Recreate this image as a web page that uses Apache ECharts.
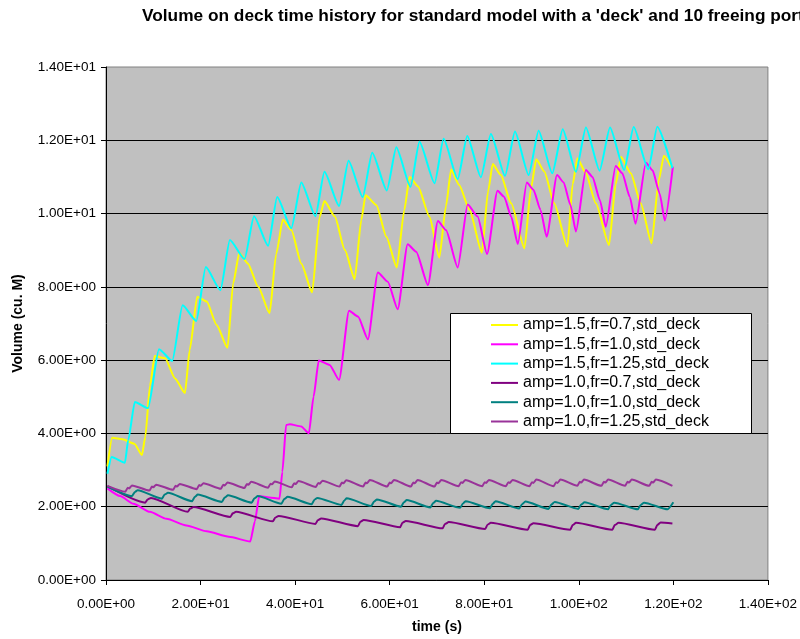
<!DOCTYPE html>
<html>
<head>
<meta charset="utf-8">
<title>Volume on deck time history</title>
<script src="https://cdn.jsdelivr.net/npm/echarts@6/dist/echarts.min.js"></script>
<style>
  html, body { margin: 0; padding: 0; background: #ffffff; }
  #chart { width: 800px; height: 639px; }
</style>
</head>
<body>
<div id="chart"></div>
<script>
// Axis ranges (time in seconds, volume in cubic metres)
const timeAxis = { min: 0, max: 140, step: 20 };
const volumeAxis = { min: 0, max: 14, step: 2 };

const seriesNames = [
  'amp=1.5,fr=0.7,std_deck',
  'amp=1.5,fr=1.0,std_deck',
  'amp=1.5,fr=1.25,std_deck',
  'amp=1.0,fr=0.7,std_deck',
  'amp=1.0,fr=1.0,std_deck',
  'amp=1.0,fr=1.25,std_deck'
];
const seriesColors = ['#FFFF00', '#FF00FF', '#00FFFF', '#800080', '#008080', '#993399'];

// [time (s), volume] samples for each run
const amp15fr07 = [
  [0.3,3.10],[1.3,3.88],[3.5,3.84],[6.0,3.72],[7.6,3.41],[8.3,3.90],[9.3,5.30],[10.3,6.11],
  [12.5,6.05],[14.6,5.50],[16.7,5.10],[17.7,6.28],[19.3,7.73],[21.3,7.60],[23.4,6.96],[25.7,6.34],
  [26.9,8.10],[28.2,8.93],[30.0,8.64],[32.2,8.00],[34.6,7.28],[36.0,8.90],[37.4,9.83],[39.2,9.55],
  [41.3,8.64],[43.6,7.85],[45.2,9.92],[46.2,10.34],[48.4,9.92],[50.5,9.01],[52.6,8.21],[54.0,9.83],
  [54.9,10.50],[57.2,10.23],[59.3,9.37],[61.5,8.53],[63.1,10.10],[64.2,11.00],[66.0,10.74],[68.4,9.92],
  [70.5,8.80],[71.9,10.20],[73.0,11.20],[74.7,10.78],[76.9,10.10],[79.5,8.93],[80.8,10.60],[81.8,11.35],
  [83.5,11.05],[85.7,10.28],[88.5,9.05],[89.9,10.70],[91.0,11.48],[92.7,11.15],[94.8,10.28],[97.6,9.10],
  [98.7,10.80],[99.7,11.51],[101.5,11.10],[103.6,10.28],[106.4,9.14],[107.8,10.80],[108.9,11.55],[111.0,11.10],
  [113.1,10.28],[115.4,9.19],[116.9,10.90],[118.0,11.58],[119.5,11.28]
];

const amp15fr10 = [
  [0.3,2.50],[3.0,2.29],[5.8,2.08],[9.3,1.86],[12.8,1.67],[17.0,1.49],[21.3,1.33],[26.0,1.18],
  [30.5,1.05],[31.5,1.60],[32.4,2.29],[34.5,2.25],[36.7,2.22],[37.3,2.95],[38.1,4.23],[38.9,4.25],
  [41.3,4.19],[42.9,4.00],[43.9,5.00],[45.0,5.99],[47.3,5.87],[49.3,5.46],[51.4,7.35],[53.3,7.19],
  [55.4,6.57],[57.5,8.39],[59.6,8.14],[61.7,7.39],[63.8,9.16],[65.6,8.96],[68.1,8.05],[70.2,9.80],
  [71.9,9.55],[74.4,8.53],[76.5,10.25],[78.6,9.92],[80.6,8.90],[82.8,10.62],[84.2,10.46],[85.7,9.92],
  [87.1,9.17],[89.0,10.85],[90.4,10.65],[91.9,10.10],[93.2,9.37],[95.4,11.05],[96.8,10.85],[98.2,10.25],
  [99.4,9.51],[101.5,11.19],[102.9,11.00],[104.5,10.35],[105.7,9.64],[107.8,11.30],[109.2,11.10],[110.8,10.45],
  [112.0,9.72],[114.2,11.39],[115.6,11.18],[117.1,10.55],[118.2,9.81],[119.9,11.28]
];

const amp15fr125 = [
  [0.3,2.90],[1.2,3.36],[4.0,3.20],[4.7,3.82],[6.1,4.86],[8.9,4.69],[11.2,6.30],[14.0,5.98],
  [16.2,7.50],[19.1,7.07],[21.1,8.54],[24.2,7.91],[26.2,9.28],[29.3,8.76],[31.3,9.93],[34.3,9.12],
  [36.2,10.45],[39.2,9.60],[41.3,10.85],[44.3,9.93],[46.2,11.14],[49.3,10.21],[51.3,11.44],[54.3,10.45],
  [56.3,11.66],[59.4,10.63],[61.4,11.81],[64.4,10.73],[66.3,11.96],[69.5,10.83],[71.4,12.04],[74.4,10.94],
  [76.4,12.12],[79.3,10.99],[81.4,12.17],[84.4,11.03],[86.5,12.24],[89.4,11.05],[91.5,12.26],[94.4,11.10],
  [96.6,12.30],[99.4,11.14],[101.5,12.35],[104.4,11.17],[106.6,12.35],[109.6,11.19],[111.6,12.36],[114.7,11.21],
  [116.6,12.37],[119.8,11.24]
];

const amp10fr07 = [
  [0.3,2.56],[8.3,2.11],[8.8,2.20],[9.5,2.24],[17.3,1.86],[17.8,1.95],[18.5,1.99],[26.3,1.72],
  [26.8,1.82],[27.5,1.86],[35.3,1.60],[35.8,1.70],[36.5,1.75],[44.3,1.53],[44.8,1.63],[45.5,1.68],
  [53.3,1.47],[53.8,1.59],[54.5,1.64],[62.2,1.44],[62.7,1.56],[63.4,1.61],[71.2,1.41],[71.7,1.53],
  [72.5,1.58],[80.2,1.39],[80.7,1.51],[81.4,1.56],[89.2,1.37],[89.7,1.50],[90.4,1.55],[98.2,1.37],
  [98.7,1.50],[99.4,1.56],[107.1,1.37],[107.6,1.50],[108.4,1.56],[116.1,1.37],[116.6,1.50],[117.3,1.57],
  [119.8,1.54]
];

const amp10fr10 = [
  [0.3,2.55],[5.5,2.29],[6.1,2.40],[6.7,2.45],[11.8,2.22],[12.4,2.33],[13.1,2.38],[18.2,2.15],
  [18.8,2.27],[19.4,2.33],[24.5,2.13],[25.1,2.25],[25.8,2.31],[30.8,2.11],[31.4,2.23],[32.1,2.29],
  [37.1,2.08],[37.7,2.21],[38.4,2.27],[43.5,2.07],[44.1,2.19],[44.7,2.24],[49.8,2.05],[50.4,2.17],
  [50.9,2.23],[56.1,2.02],[56.7,2.14],[57.3,2.20],[62.4,2.00],[63.0,2.12],[63.6,2.18],[68.6,1.98],
  [69.2,2.10],[69.8,2.16],[74.9,1.97],[75.5,2.09],[76.1,2.15],[81.2,1.96],[81.8,2.08],[82.4,2.15],
  [87.4,1.95],[88.0,2.07],[88.7,2.14],[93.6,1.94],[94.2,2.06],[94.9,2.13],[99.9,1.94],[100.5,2.06],
  [101.2,2.12],[106.2,1.93],[106.8,2.05],[107.5,2.11],[112.5,1.93],[113.1,2.05],[113.8,2.11],[118.8,1.93],
  [120.0,2.12]
];

const amp10fr125 = [
  [0.3,2.57],
  [4.1,2.41],[4.6,2.52],[4.9,2.50],[5.5,2.58],
  [9.2,2.44],[9.7,2.55],[10.0,2.53],[10.6,2.60],
  [14.2,2.46],[14.7,2.57],[15.0,2.55],[15.6,2.62],
  [19.2,2.48],[19.7,2.59],[20.0,2.57],[20.6,2.64],
  [24.3,2.49],[24.8,2.60],[25.1,2.58],[25.7,2.66],
  [29.3,2.51],[29.8,2.62],[30.1,2.60],[30.7,2.68],
  [34.3,2.52],[34.8,2.63],[35.1,2.61],[35.7,2.69],
  [39.3,2.53],[39.8,2.64],[40.1,2.62],[40.7,2.70],
  [44.4,2.54],[44.9,2.65],[45.2,2.63],[45.8,2.71],
  [49.4,2.55],[49.9,2.66],[50.2,2.64],[50.8,2.72],
  [54.4,2.55],[54.9,2.66],[55.2,2.64],[55.8,2.73],
  [59.5,2.55],[60.0,2.66],[60.3,2.64],[60.9,2.73],
  [64.5,2.55],[65.0,2.66],[65.3,2.64],[65.9,2.73],
  [69.5,2.55],[70.0,2.66],[70.3,2.64],[70.9,2.73],
  [74.6,2.56],[75.1,2.67],[75.4,2.65],[76.0,2.73],
  [79.6,2.56],[80.1,2.67],[80.4,2.65],[81.0,2.73],
  [84.6,2.56],[85.1,2.67],[85.4,2.65],[86.0,2.73],
  [89.6,2.56],[90.1,2.67],[90.4,2.65],[91.0,2.74],
  [94.7,2.56],[95.2,2.67],[95.5,2.65],[96.1,2.74],
  [99.7,2.57],[100.2,2.68],[100.5,2.66],[101.1,2.74],
  [104.8,2.57],[105.3,2.68],[105.6,2.66],[106.2,2.74],
  [109.8,2.57],[110.3,2.68],[110.6,2.66],[111.2,2.74],
  [114.9,2.57],[115.4,2.68],[115.7,2.66],[116.3,2.74],
  [119.8,2.57]
];

const seriesData = [amp15fr07, amp15fr10, amp15fr125, amp10fr07, amp10fr10, amp10fr125];

// Scientific notation like 1.40E+01
function sci(v) {
  if (v === 0) return '0.00E+00';
  const e = Math.floor(Math.log10(Math.abs(v)) + 1e-9);
  const m = v / Math.pow(10, e);
  return m.toFixed(2) + 'E' + (e < 0 ? '-' : '+') + String(Math.abs(e)).padStart(2, '0');
}

const FONT = '"Liberation Sans", Arial, sans-serif';

const chart = echarts.init(document.getElementById('chart'), null, { renderer: 'canvas' });

chart.setOption({
  animation: false,
  backgroundColor: '#ffffff',
  title: {
    text: "Volume on deck time history for standard model with a 'deck' and 10 freeing ports",
    left: 142,
    top: 8,
    padding: 0,
    textStyle: { fontFamily: FONT, fontSize: 17.3, fontWeight: 'bold', color: '#000' }
  },
  grid: {
    left: 106, right: 31, top: 67, bottom: 59,
    show: true,
    backgroundColor: '#C0C0C0',
    borderColor: '#808080',
    borderWidth: 1,
    containLabel: false
  },
  xAxis: {
    type: 'value',
    min: timeAxis.min, max: timeAxis.max, interval: timeAxis.step,
    name: 'time (s)',
    nameLocation: 'middle',
    nameGap: 40,
    nameTextStyle: { fontFamily: FONT, fontSize: 14, fontWeight: 'bold', color: '#000' },
    axisLine: { show: true, onZero: false, lineStyle: { color: '#000', width: 1 } },
    axisTick: { show: true, inside: false, length: 5, lineStyle: { color: '#000' } },
    axisLabel: { formatter: sci, margin: 17, fontFamily: FONT, fontSize: 13.5, color: '#000' },
    splitLine: { show: false }
  },
  yAxis: {
    type: 'value',
    min: volumeAxis.min, max: volumeAxis.max, interval: volumeAxis.step,
    name: 'Volume (cu. M)',
    nameLocation: 'middle',
    nameGap: 81,
    nameTextStyle: { fontFamily: FONT, fontSize: 14, fontWeight: 'bold', color: '#000' },
    axisLine: { show: true, onZero: false, lineStyle: { color: '#000', width: 1 } },
    axisTick: { show: true, inside: false, length: 5, lineStyle: { color: '#000' } },
    axisLabel: { formatter: sci, margin: 10, fontFamily: FONT, fontSize: 13.5, color: '#000' },
    splitLine: { show: true, showMinLine: false, showMaxLine: false, lineStyle: { color: '#000', width: 1 } }
  },
  legend: {
    orient: 'vertical',
    left: 491,
    top: 317,
    padding: 0,
    icon: 'rect',
    itemWidth: 27,
    itemHeight: 2,
    itemGap: 3.3,
    selectedMode: false,
    z: 20,
    textStyle: { fontFamily: FONT, fontSize: 16, color: '#000' },
    data: seriesNames
  },
  graphic: [{
    type: 'rect',
    z: 10,
    shape: { x: 450.5, y: 313.5, width: 301, height: 120 },
    style: { fill: '#ffffff', stroke: '#000', lineWidth: 1 }
  }],
  series: seriesNames.map((name, i) => ({
    name,
    type: 'line',
    data: seriesData[i],
    symbol: 'none',
    showSymbol: false,
    smooth: 0.2,
    smoothMonotone: 'x',
    color: seriesColors[i],
    lineStyle: { color: seriesColors[i], width: 2 },
    z: 2 + i
  }))
});
</script>
</body>
</html>
